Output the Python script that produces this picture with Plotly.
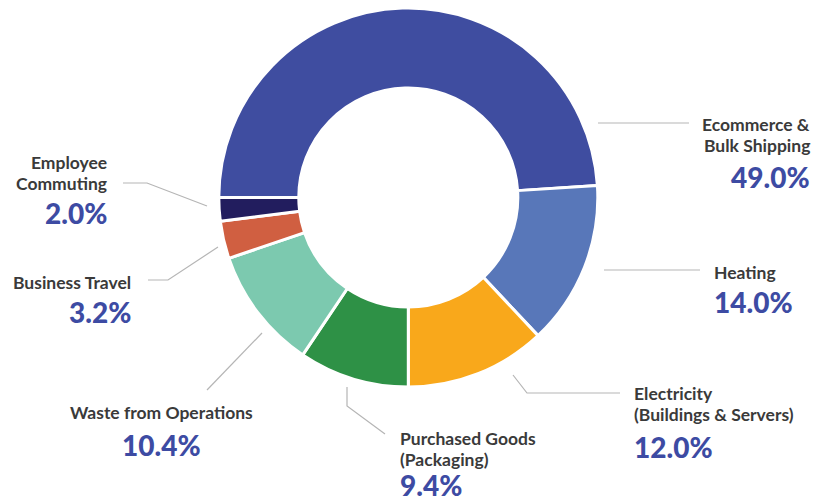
import plotly.graph_objects as go

# ---- data ----
categories = ["Ecommerce & Bulk Shipping", "Heating", "Electricity (Buildings & Servers)",
              "Purchased Goods (Packaging)", "Waste from Operations", "Business Travel",
              "Employee Commuting"]
label_lines = [["Ecommerce &", "Bulk Shipping"], ["Heating"], ["Electricity", "(Buildings & Servers)"],
               ["Purchased Goods", "(Packaging)"], ["Waste from Operations"], ["Business Travel"],
               ["Employee", "Commuting"]]
values = [49.0, 14.0, 12.0, 9.4, 10.4, 3.2, 2.0]
colors = ["#3F4DA0", "#5877B9", "#F9A81B", "#2E9146", "#7CC9AF", "#D05F41", "#221D5E"]

W, H = 816, 501

# ---- layout (pixel positions of label blocks and leader lines) ----
# (label x, first line y-center, percent y-center, xanchor)
label_pos = [
    (812, 124, 177, "right"),
    (712, 272, 302, "left"),
    (632, 393, 447, "left"),
    (398, 438, 485, "left"),
    (161, 412, 445, "center"),
    (133, 282, 312, "right"),
    (109, 162, 213, "right"),
]
LINE_GAP = 21
leaders = [
    [(598, 123), (689, 123)],
    [(604, 270), (700, 270)],
    [(513, 375), (527, 393), (620, 393)],
    [(347, 387), (347, 406), (385, 434)],
    [(262, 333), (207, 390)],
    [(218, 247), (168, 280), (148, 280)],
    [(207, 206), (147, 183), (123, 183)],
]

def px(x):
    return x / W

def py(y):
    return 1 - y / H

fig = go.Figure(go.Pie(
    labels=categories,
    values=values,
    sort=False,
    direction="clockwise",
    rotation=270,
    hole=0.578,
    textinfo="none",
    hoverinfo="label+percent",
    marker=dict(colors=colors, line=dict(color="white", width=3)),
    domain=dict(x=[px(408.3 - 189.5), px(408.3 + 189.5)], y=[py(387), py(8)]),
    showlegend=False,
))

annotations = []
for (lx, ly, vy, anc), lines, v in zip(label_pos, label_lines, values):
    for i, line in enumerate(lines):
        annotations.append(dict(
            x=px(lx), y=py(ly + i * LINE_GAP), xref="paper", yref="paper",
            xanchor=anc, yanchor="middle", text=line, showarrow=False,
            font=dict(family="Lato", size=17.5, color="#3A3A3A", weight=700),
        ))
    annotations.append(dict(
        x=px(lx), y=py(vy), xref="paper", yref="paper", xanchor=anc, yanchor="middle",
        text=f"{v:.1f}%", showarrow=False,
        font=dict(family="Lato", size=28, color="#3D4BA3", weight=900),
    ))

shapes = []
for pts in leaders:
    path = "M " + " L ".join(f"{px(x)},{py(y)}" for x, y in pts)
    shapes.append(dict(type="path", path=path, xref="paper", yref="paper",
                       line=dict(color="#B5B5B5", width=1.2)))

fig.update_layout(
    width=W, height=H,
    margin=dict(l=0, r=0, t=0, b=0),
    paper_bgcolor="white", plot_bgcolor="white",
    annotations=annotations, shapes=shapes,
)

fig.write_html("out.html", config={"displayModeBar": False},
               post_script="document.body.style.margin='0';document.body.style.overflow='hidden';")
